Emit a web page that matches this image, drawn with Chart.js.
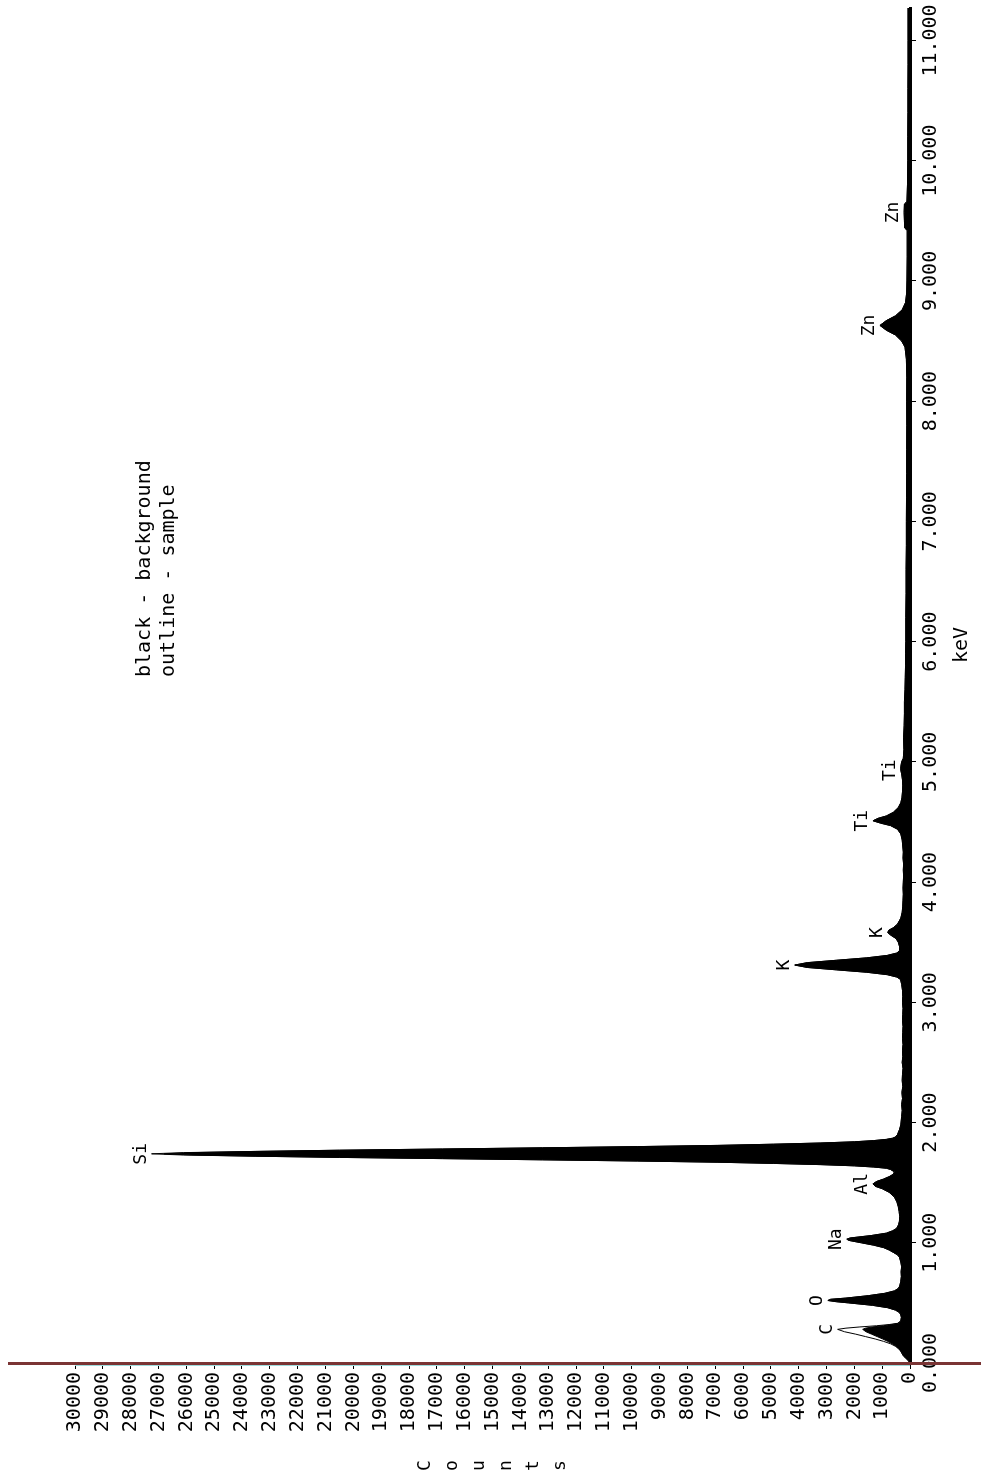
<!DOCTYPE html>
<html>
<head>
<meta charset="utf-8">
<script src="https://cdn.jsdelivr.net/npm/chart.js@4.4.1/dist/chart.umd.min.js"></script>
<style>
  html, body { margin: 0; padding: 0; background: #fff; overflow: hidden; }
  /* the spectrum is drawn the normal way and then turned a quarter turn */
  #wrap {
    position: absolute; left: 0; top: 0;
    width: 1480px; height: 981px;
    transform-origin: 0 0;
    transform: translateY(1480px) rotate(-90deg);
  }
</style>
</head>
<body>
<div id="wrap"><canvas id="spectrum" width="1480" height="981"></canvas></div>
<script>
// Energy channels (keV)
const keV = [
  0.00, 0.02, 0.04, 0.06, 0.08, 0.10, 0.12, 0.14, 0.16, 0.18, 0.20, 0.22, 0.24, 0.26, 0.28, 0.29, 0.30, 0.31, 0.32, 0.33, 0.35,
  0.38, 0.40, 0.42, 0.44, 0.46, 0.48, 0.50, 0.51, 0.52, 0.53, 0.54, 0.56, 0.58, 0.60, 0.62, 0.64,
  0.68, 0.72, 0.76, 0.80, 0.84, 0.88, 0.90,
  0.92, 0.94, 0.96, 0.98, 1.00, 1.02, 1.03, 1.04, 1.06, 1.08, 1.10, 1.12,
  1.15, 1.18, 1.22, 1.26, 1.30, 1.34,
  1.38, 1.42, 1.45, 1.47, 1.49, 1.51, 1.53, 1.55, 1.57,
  1.59, 1.61, 1.62, 1.63, 1.64, 1.65, 1.66, 1.67, 1.68, 1.69, 1.70, 1.71, 1.72, 1.73, 1.74,
  1.75, 1.76, 1.77, 1.78, 1.79, 1.80, 1.81, 1.82, 1.83, 1.84, 1.85, 1.86, 1.87, 1.88, 1.90,
  1.94, 1.98, 2.05, 2.10, 2.15, 2.20, 2.25, 2.30, 2.35, 2.40, 2.45, 2.50, 2.55, 2.60, 2.65,
  2.70, 2.75, 2.80, 2.85, 2.90, 2.95, 3.00, 3.05, 3.10, 3.15,
  3.19, 3.21, 3.23, 3.25, 3.27, 3.29, 3.31, 3.33, 3.35, 3.37, 3.39, 3.41, 3.43,
  3.46, 3.50, 3.53, 3.56, 3.58, 3.60, 3.62, 3.65, 3.70,
  3.75, 3.80, 3.85, 3.90, 3.95, 4.00, 4.05, 4.10, 4.15, 4.20, 4.25, 4.30, 4.35,
  4.40, 4.44, 4.47, 4.49, 4.51, 4.53, 4.55, 4.58, 4.62, 4.66, 4.70, 4.75, 4.80, 4.85,
  4.90, 4.93, 4.96, 5.00, 5.03,
  5.10, 5.20, 5.30, 5.40, 5.50, 5.60, 5.70, 5.80, 5.90, 6.00, 6.20,
  6.40, 6.60, 6.80, 7.00, 7.20, 7.40, 7.60, 7.80, 8.00, 8.20, 8.35,
  8.45, 8.50, 8.55, 8.59, 8.63, 8.67, 8.71, 8.76, 8.82, 8.90,
  9.00, 9.20, 9.42, 9.44, 9.50, 9.57, 9.64, 9.66, 9.80, 10.00, 10.20, 10.40, 10.60, 10.80, 11.00, 11.27
];

// black - background
const backgroundCounts = [
  0, 60, 150, 240, 290, 330, 400, 500, 640, 800, 980, 1180, 1380, 1580, 1700, 1600, 1350, 950, 650, 420, 330,
  310, 330, 380, 520, 800, 1350, 2200, 2650, 2950, 2850, 2300, 1500, 900, 560, 420, 370,
  330, 310, 320, 300, 330, 380, 450,
  600, 750, 950, 1300, 1750, 2200, 2270, 2150, 1400, 850, 620, 480,
  410, 380, 370, 390, 420, 470,
  560, 750, 1000, 1250, 1330, 1200, 950, 750, 600,
  560, 700, 850, 1300, 2000, 3200, 4900, 6900, 9800, 13200, 16800, 20500, 23500, 25800, 26800,
  25800, 23500, 20500, 16800, 13200, 9800, 6900, 4900, 3200, 2000, 1300, 850, 620, 520, 450,
  380, 330, 300, 280, 300, 270, 290, 260, 280, 270, 250, 280, 260, 270, 250,
  270, 260, 250, 270, 260, 250, 270, 260, 270, 300,
  340, 470, 820, 1550, 2630, 3690, 4140, 3690, 2630, 1550, 820, 470, 380,
  370, 420, 500, 700, 800, 760, 600, 450, 330,
  280, 260, 250, 240, 250, 240, 230, 240, 230, 250, 240, 260, 280,
  330, 450, 700, 1050, 1330, 1150, 850, 600, 420, 330, 290, 270, 260, 270,
  300, 330, 330, 300, 240,
  220, 230, 210, 200, 200, 180, 170, 160, 160, 150, 150,
  140, 140, 130, 130, 125, 120, 120, 115, 120, 115, 130,
  180, 300, 520, 850, 1080, 850, 520, 280, 160, 120,
  110, 100, 100, 190, 200, 210, 200, 110, 90, 80, 80, 75, 75, 70, 70, 70
];

// outline - sample
const sampleCounts = [
  0, 60, 150, 240, 290, 340, 420, 530, 700, 950, 1250, 1600, 1950, 2350, 2600, 2300, 1800, 1200, 750, 450, 330,
  310, 330, 380, 520, 800, 1350, 2200, 2650, 2950, 2850, 2300, 1500, 900, 560, 420, 370,
  330, 310, 320, 300, 330, 380, 450,
  600, 750, 950, 1300, 1750, 2200, 2270, 2150, 1400, 850, 620, 480,
  410, 380, 370, 390, 420, 470,
  560, 750, 1000, 1250, 1330, 1200, 950, 750, 600,
  560, 700, 850, 1300, 2000, 3200, 4900, 6900, 9800, 13200, 16800, 20500, 23500, 26100, 27250,
  26100, 23500, 20500, 16800, 13200, 9800, 6900, 4900, 3200, 2000, 1300, 850, 620, 520, 450,
  380, 330, 300, 280, 300, 270, 290, 260, 280, 270, 250, 280, 260, 270, 250,
  270, 260, 250, 270, 260, 250, 270, 260, 270, 300,
  340, 470, 820, 1550, 2630, 3690, 4140, 3690, 2630, 1550, 820, 470, 380,
  370, 420, 500, 700, 800, 760, 600, 450, 330,
  280, 260, 250, 240, 250, 240, 230, 240, 230, 250, 240, 260, 280,
  330, 450, 700, 1050, 1330, 1150, 850, 600, 420, 330, 290, 270, 260, 270,
  300, 330, 330, 300, 240,
  220, 230, 210, 200, 200, 180, 170, 160, 160, 150, 150,
  140, 140, 130, 130, 125, 120, 120, 115, 120, 115, 130,
  180, 300, 520, 850, 1080, 850, 520, 280, 160, 120,
  110, 100, 100, 190, 200, 210, 200, 110, 90, 80, 80, 75, 75, 70, 70, 70
];

// element markers
const peakNames = ['C', 'O', 'Na', 'Al', 'Si', 'K', 'K', 'Ti', 'Ti', 'Zn', 'Zn'];
const peakKeV   = [0.28, 0.52, 1.03, 1.49, 1.74, 3.31, 3.58, 4.51, 4.93, 8.63, 9.57];

const legendLines = ['black - background', 'outline - sample'];
const xTitle = 'keV';
const yTitle = 'Counts';

const MONO = "'DejaVu Sans Mono', 'Liberation Mono', monospace";

const toPoints = (counts) => keV.map((e, i) => ({ x: e, y: counts[i] }));

// highest sample count near an energy, used to seat the element label
function peakTop(e) {
  let top = 0;
  keV.forEach((k, i) => {
    if (Math.abs(k - e) <= 0.021 && sampleCounts[i] > top) top = sampleCounts[i];
  });
  return top;
}

const spectrumText = {
  id: 'spectrumText',
  afterDraw(chart) {
    const { ctx, chartArea, scales: { x, y } } = chart;
    ctx.save();

    // teal counts axis and the brown marker at 0 keV
    const x0 = x.getPixelForValue(0);
    ctx.strokeStyle = '#9ddcdc';
    ctx.lineWidth = 1;
    ctx.beginPath();
    ctx.moveTo(x0 - 2.5, chartArea.top);
    ctx.lineTo(x0 - 2.5, chartArea.bottom);
    ctx.stroke();
    ctx.strokeStyle = '#7a3434';
    ctx.lineWidth = 3;
    ctx.beginPath();
    ctx.moveTo(x0 - 0.5, 8);
    ctx.lineTo(x0 - 0.5, chart.height);
    ctx.stroke();

    ctx.fillStyle = '#000';

    // element labels over the peaks
    ctx.font = `18px ${MONO}`;
    ctx.textAlign = 'center';
    ctx.textBaseline = 'alphabetic';
    peakNames.forEach((name, i) => {
      const px = x.getPixelForValue(peakKeV[i]);
      const py = y.getPixelForValue(peakTop(peakKeV[i]));
      ctx.fillText(name, px, py - 6);
    });

    // legend note
    ctx.font = `20px ${MONO}`;
    ctx.textAlign = 'left';
    legendLines.forEach((line, i) => ctx.fillText(line, 803, 150 + i * 24));

    // axis titles
    ctx.textAlign = 'center';
    ctx.fillText(xTitle, 835, 967);
    ctx.font = `18px ${MONO}`;
    ctx.textBaseline = 'middle';
    const mid = (chartArea.top + chartArea.bottom) / 2;
    [...yTitle].forEach((ch, i) => {
      ctx.fillText(ch, 14.5, mid + (i - (yTitle.length - 1) / 2) * 27);
    });

    ctx.restore();
  }
};

new Chart(document.getElementById('spectrum'), {
  type: 'line',
  data: {
    datasets: [
      {
        label: 'sample',
        data: toPoints(sampleCounts),
        borderColor: '#000',
        borderWidth: 1,
        fill: false,
        pointRadius: 0,
        tension: 0
      },
      {
        label: 'background',
        data: toPoints(backgroundCounts),
        borderColor: '#000',
        backgroundColor: '#000',
        borderWidth: 1,
        fill: 'origin',
        pointRadius: 0,
        tension: 0
      }
    ]
  },
  options: {
    responsive: false,
    animation: false,
    events: [],
    layout: { padding: { top: 75, right: 8, left: 0, bottom: 0 } },
    plugins: {
      legend: { display: false },
      tooltip: { enabled: false }
    },
    scales: {
      x: {
        type: 'linear',
        min: 0,
        max: 11.27,
        border: { color: '#000', width: 3 },
        grid: { drawOnChartArea: false, color: '#000', tickLength: 6 },
        ticks: {
          stepSize: 1,
          includeBounds: false,
          autoSkip: false,
          maxRotation: 0,
          color: '#000',
          padding: 3,
          font: { family: MONO, size: 20 },
          callback: (v) => Number(v).toFixed(3)
        },
        afterFit: (s) => { s.height = 71; s.paddingLeft = 0; s.paddingRight = 0; }
      },
      y: {
        min: 0,
        max: 30000,
        border: { display: false },
        grid: { drawOnChartArea: false, color: '#000', tickLength: 6 },
        ticks: {
          stepSize: 1000,
          autoSkip: false,
          color: '#000',
          padding: 3,
          font: { family: MONO, size: 20 },
          callback: (v) => String(v)   // plain digits, no thousands separator
        },
        afterFit: (s) => { s.width = 117; s.paddingTop = 0; s.paddingBottom = 0; }
      }
    }
  },
  plugins: [spectrumText]
});
</script>
</body>
</html>
